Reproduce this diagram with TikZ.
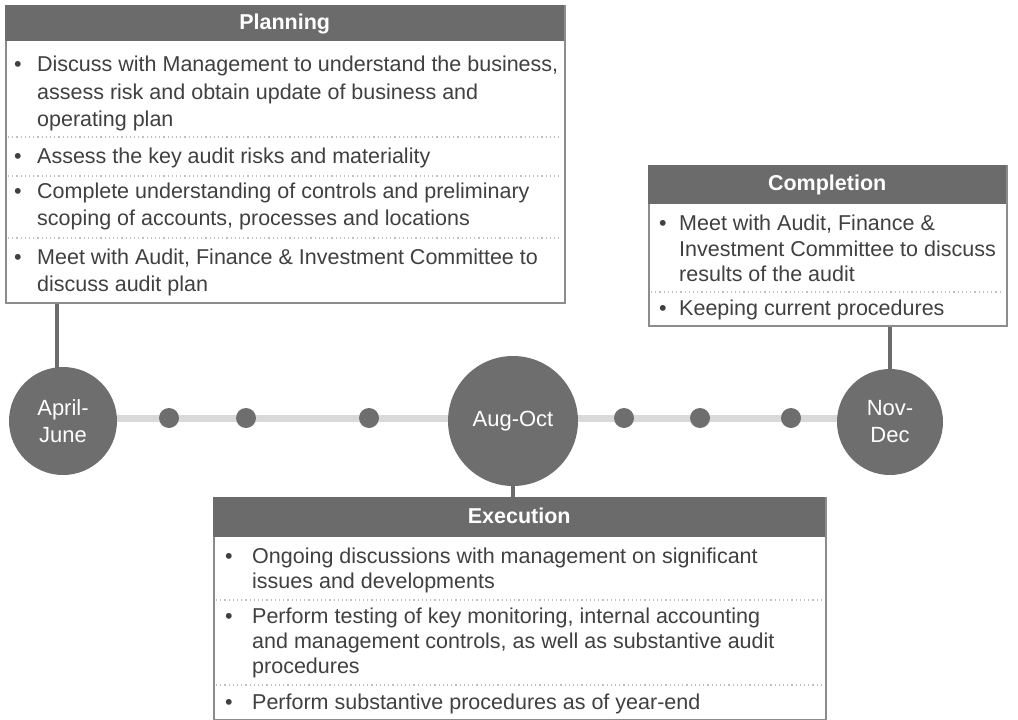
\documentclass[tikz,border=0pt]{standalone}
\usepackage{fontspec}
\setmainfont{Liberation Sans}
\usetikzlibrary{backgrounds}
\definecolor{hdr}{HTML}{6B6B6B}
\definecolor{circ}{HTML}{6E6E6E}
\definecolor{txt}{HTML}{404040}
\definecolor{bord}{HTML}{8C8C8C}
\definecolor{sepc}{HTML}{BFBFBF}
\definecolor{tl}{HTML}{D9D9D9}
\tikzset{
 panel/.style={draw=bord, line width=1.5pt, fill=white, anchor=north west, inner sep=0pt},
 header/.style={fill=hdr, text=white, anchor=north west, inner sep=0pt, text height=15pt, text depth=3pt, font=\fontsize{21.5}{25}\selectfont\bfseries},
 item/.style={anchor=base west, inner sep=0pt, text=txt, font=\fontsize{21.5}{25}\selectfont},
 bul/.style={anchor=base, inner sep=0pt, text=txt, font=\fontsize{21.5}{25}\selectfont},
 sepline/.style={draw=sepc, line width=1.2pt, dash pattern=on 1.2pt off 3pt},
 conn/.style={draw=hdr, line width=4pt},
 tline/.style={draw=tl, line width=7pt},
 phase/.style={circle, fill=circ, text=white, inner sep=0pt, align=center, font=\fontsize{22}{27}\selectfont},
 tick/.style={circle, fill=circ, minimum size=20pt, inner sep=0pt},
}
\begin{document}
\begin{tikzpicture}[x=1pt,y=-1pt]
\useasboundingbox (0,0) rectangle (1018,720);
% ---------- Planning ----------
\node[panel, minimum width=559pt, minimum height=297pt] (plan) at (5,5) {};
\node[header, minimum width=559pt, minimum height=36pt] (planh) at (5,5) {Planning};
\node[bul] (pb1) at (18,71) {•};
\node[item] (pl1) at (37,71) {Discuss with Management to understand the business,};
\node[item] (pl2) at (37,99) {assess risk and obtain update of business and};
\node[item] (pl3) at (37,126) {operating plan};
\draw[sepline] (8,137) -- (561,137);
\node[bul] (pb2) at (18,163) {•};
\node[item] (pl4) at (37,163) {Assess the key audit risks and materiality};
\draw[sepline] (8,176) -- (561,176);
\node[bul] (pb3) at (18,198) {•};
\node[item] (pl5) at (37,198) {Complete understanding of controls and preliminary};
\node[item] (pl6) at (37,225) {scoping of accounts, processes and locations};
\draw[sepline] (8,238) -- (561,238);
\node[bul] (pb4) at (18,264) {•};
\node[item] (pl7) at (37,264) {Meet with Audit, Finance \& Investment Committee to};
\node[item] (pl8) at (37,291) {discuss audit plan};
% ---------- Completion ----------
\node[panel, minimum width=358pt, minimum height=160pt] (comp) at (648,165) {};
\node[header, minimum width=358pt, minimum height=39pt] (comph) at (648,165) {Completion};
\node[bul] (cb1) at (663,230) {•};
\node[item] (cl1) at (679,230) {Meet with Audit, Finance \&};
\node[item] (cl2) at (679,256) {Investment Committee to discuss};
\node[item] (cl3) at (679,281) {results of the audit};
\draw[sepline] (651,292) -- (1003,292);
\node[bul] (cb2) at (663,315) {•};
\node[item] (cl4) at (679,315) {Keeping current procedures};
% ---------- Execution ----------
\node[panel, minimum width=612pt, minimum height=222pt] (exec) at (213,497) {};
\node[header, minimum width=612pt, minimum height=40pt] (exech) at (213,497) {Execution};
\node[bul] (eb1) at (229,563) {•};
\node[item] (el1) at (252,563) {Ongoing discussions with management on significant};
\node[item] (el2) at (252,588) {issues and developments};
\draw[sepline] (216,600) -- (822,600);
\node[bul] (eb2) at (229,623) {•};
\node[item] (el3) at (252,623) {Perform testing of key monitoring, internal accounting};
\node[item] (el4) at (252,648) {and management controls, as well as substantive audit};
\node[item] (el5) at (252,673) {procedures};
\draw[sepline] (216,685) -- (822,685);
\node[bul] (eb3) at (229,709) {•};
\node[item] (el6) at (252,709) {Perform substantive procedures as of year-end};
% ---------- Timeline ----------
\node[phase, minimum size=108pt] (apr) at (63,421) {April-\\June};
\node[phase, minimum size=130pt] (aug) at (513,421) {Aug-Oct};
\node[phase, minimum size=106pt] (nov) at (890,422) {Nov-\\Dec};
\node[tick] (t1) at (169,418) {};
\node[tick] (t2) at (246,418) {};
\node[tick] (t3) at (369,418) {};
\node[tick] (t4) at (624,418) {};
\node[tick] (t5) at (700,418) {};
\node[tick] (t6) at (791,418) {};
\begin{scope}[on background layer]
\draw[tline] ([yshift=3pt]apr.center) -- ([yshift=4pt]nov.center);
\draw[conn] ([xshift=-6pt]apr.center) -- ([xshift=-6pt]apr.center |- plan.south);
\draw[conn] (nov.center) -- (nov.center |- comp.south);
\draw[conn] (aug.center) -- (aug.center |- exec.north);
\end{scope}
\end{tikzpicture}
\end{document}
